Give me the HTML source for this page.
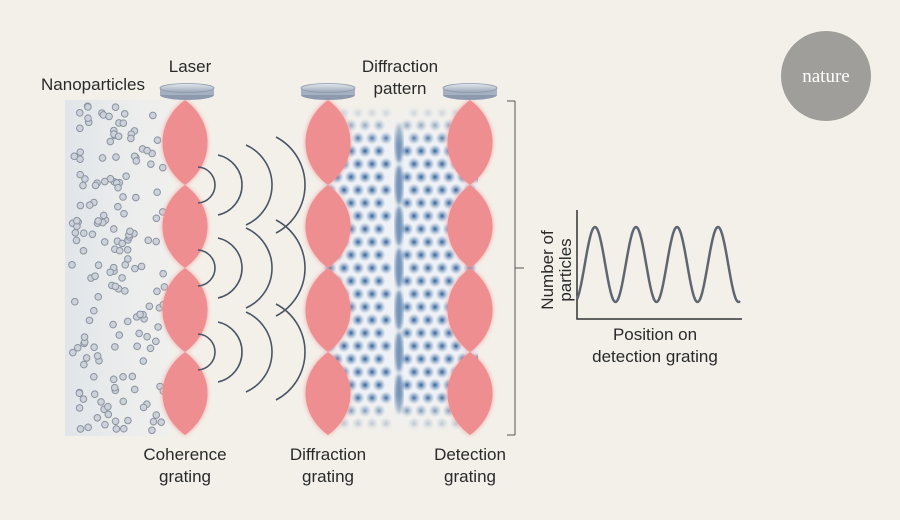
<!DOCTYPE html>
<html><head><meta charset="utf-8"><style>
html,body{margin:0;padding:0;background:#f3f0e9;}
svg{display:block;}
text{font-family:"Liberation Sans",sans-serif;fill:#2a2a2a;font-size:17px;}
</style></head><body>
<svg id="s" width="900" height="520" viewBox="0 0 900 520" xmlns="http://www.w3.org/2000/svg">
<defs>
<linearGradient id="pbg" x1="0" x2="1" y1="0" y2="0">
<stop offset="0" stop-color="#dfe4ea" stop-opacity="0.9"/><stop offset="1" stop-color="#eef0f0" stop-opacity="0.6"/></linearGradient>
<linearGradient id="lens" x1="0" x2="0" y1="0" y2="1">
<stop offset="0" stop-color="#e4e8ee"/><stop offset="1" stop-color="#9aa6b8"/></linearGradient>
<linearGradient id="fade" x1="0" x2="0" y1="0" y2="1">
<stop offset="0" stop-color="#fff" stop-opacity="0"/><stop offset="0.12" stop-color="#fff" stop-opacity="1"/><stop offset="0.88" stop-color="#fff" stop-opacity="1"/><stop offset="1" stop-color="#fff" stop-opacity="0"/></linearGradient>
<mask id="dmask"><rect x="322" y="105" width="156" height="330" fill="url(#fade)"/></mask>
<filter id="blur"><feGaussianBlur stdDeviation="2.5"/></filter>
<filter id="blur2"><feGaussianBlur stdDeviation="1.6"/></filter>
<radialGradient id="blob"><stop offset="0" stop-color="#2f5f98" stop-opacity="1"/><stop offset="1" stop-color="#7d9cc4" stop-opacity="0"/></radialGradient>
</defs>
<circle cx="826" cy="76" r="45" fill="#a09e9a"/>
<text x="826" y="82" text-anchor="middle" style="font-family:'Liberation Serif',serif;font-size:19px;fill:#fff">nature</text>
<rect x="65" y="100" width="108" height="336" fill="url(#pbg)"/>
<g id="dots"></g>
<g id="diff" mask="url(#dmask)"></g>
<g id="lobes"></g>
<g id="arcs" fill="none" stroke="#4a5566" stroke-width="1.6"></g>
<g id="lenses"></g>
<line x1="515" y1="101" x2="515" y2="435" stroke="#555" stroke-width="1"/>
<line x1="507" y1="101" x2="515" y2="101" stroke="#555"/>
<line x1="507" y1="435" x2="515" y2="435" stroke="#555"/>
<line x1="515" y1="268" x2="524" y2="268" stroke="#555"/>
<polyline points="577,210 577,319 742,319" fill="none" stroke="#333" stroke-width="1.5"/>
<path id="sine" fill="none" stroke="#5f6672" stroke-width="2.5"/>
<text x="553" y="270" transform="rotate(-90 553 270)" text-anchor="middle">Number of</text>
<text x="571" y="270" transform="rotate(-90 571 270)" text-anchor="middle">particles</text>
<text x="655" y="340" text-anchor="middle">Position on</text>
<text x="655" y="362" text-anchor="middle">detection grating</text>
<text x="190" y="72" text-anchor="middle">Laser</text>
<text x="93" y="90" text-anchor="middle">Nanoparticles</text>
<text x="400" y="72" text-anchor="middle">Diffraction</text>
<text x="400" y="94" text-anchor="middle">pattern</text>
<text x="185" y="460" text-anchor="middle">Coherence</text>
<text x="185" y="482" text-anchor="middle">grating</text>
<text x="328" y="460" text-anchor="middle">Diffraction</text>
<text x="328" y="482" text-anchor="middle">grating</text>
<text x="470" y="460" text-anchor="middle">Detection</text>
<text x="470" y="482" text-anchor="middle">grating</text>
</svg>
<script>
var NS="http://www.w3.org/2000/svg";
function el(p,t,a){var e=document.createElementNS(NS,t);for(var k in a)e.setAttribute(k,a[k]);document.getElementById(p).appendChild(e);return e;}
var seed=7;function r(){seed=(seed*9301+49297)%233280;return seed/233280;}
for(var i=0;i<170;i++){var x=72+r()*95,y=106+r()*326;el("dots","circle",{cx:x,cy:y,r:3.3,fill:"#cdd2da",stroke:"#8a93a0","stroke-width":1});}
// diffraction
el("diff","rect",{x:322,y:105,width:156,height:330,fill:"#eef1f5"});
for(var yy=112;yy<436;yy+=13){for(var xx=330;xx<474;xx+=14){var off=(Math.round((yy-112)/13))%2?7:0;var cx=xx+off;var d=Math.abs(cx-399);if(d<8)continue;var rr=6.5;el("diff","circle",{cx:cx,cy:yy,r:rr,fill:"url(#blob)"});}}
[185,268,352,143,310,226,394].forEach(function(y){el("diff","ellipse",{cx:399,cy:y,rx:4,ry:20,fill:"#3d6a9e",opacity:0.7,filter:"url(#blur2)"});});
// lobes
[185,328,470].forEach(function(cx){var nodes=[100,185,268,352,435];for(var i=0;i<4;i++){var a=nodes[i],b=nodes[i+1];
var d="M"+cx+","+a+" C"+(cx+30)+","+(a+22)+" "+(cx+30)+","+(b-22)+" "+cx+","+b+" C"+(cx-30)+","+(b-22)+" "+(cx-30)+","+(a+22)+" "+cx+","+a+"Z";
el("lobes","path",{d:d,fill:"#f2a0a0",filter:"url(#blur)"});el("lobes","path",{d:d,fill:"#ee8e90"});}});
// arcs: [endX, peakX, halfHeight]
var A=[[198,215,18],[218,242,30],[246,272,40],[276,305,48]];
[185,268,352].forEach(function(cy){A.forEach(function(q){var s=q[1]-q[0],h=q[2],R=(h*h+s*s)/(2*s);
el("arcs","path",{d:"M"+q[0]+","+(cy-h)+" A"+R+","+R+" 0 0 1 "+q[0]+","+(cy+h)});});});
// lenses
[187,328,470].forEach(function(cx){el("lenses","ellipse",{cx:cx,cy:95,rx:27,ry:5,fill:"#8d9aae"});el("lenses","rect",{x:cx-27,y:88,width:54,height:7,fill:"#a5b0c0"});el("lenses","ellipse",{cx:cx,cy:88,rx:27,ry:4.5,fill:"url(#lens)",stroke:"#8d9aae","stroke-width":0.8});});
// sine
var d="";for(var x=577;x<=740;x++){var y=264.5-37.5*Math.sin((x-595)/41*2*Math.PI+Math.PI/2);d+=(x==577?"M":"L")+x+","+y.toFixed(1)+" ";}
document.getElementById("sine").setAttribute("d",d);
</script>
</body></html>
